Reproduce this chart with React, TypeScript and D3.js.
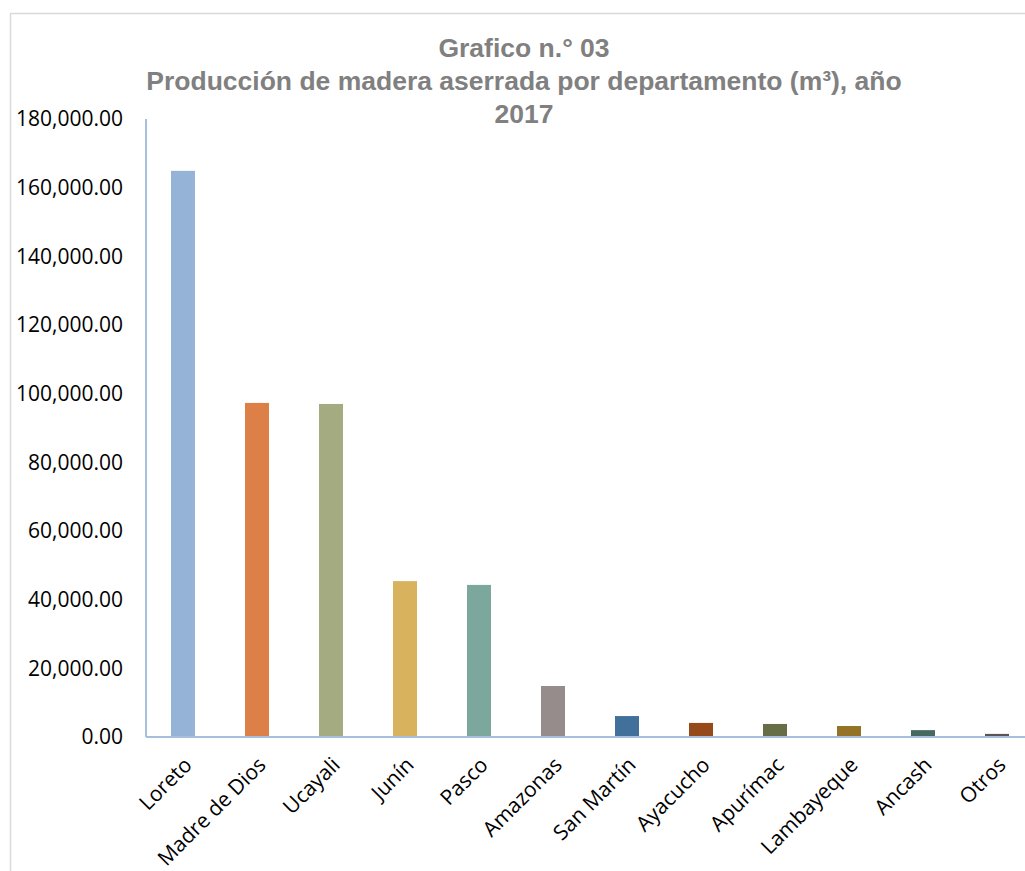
import React from "react";
import * as d3 from "d3";

const categories = ["Loreto", "Madre de Dios", "Ucayali", "Junín", "Pasco", "Amazonas", "San Martín", "Ayacucho", "Apurímac", "Lambayeque", "Ancash", "Otros"];
const values = [164900, 97300, 97000, 45400, 44300, 14850, 6100, 4100, 3800, 3200, 2000, 900];
const colors = ["#95b3d7", "#dd8047", "#a5ab81", "#d8b25c", "#7ba79d", "#968c8c", "#41709b", "#964a1a", "#666e48", "#957326", "#456961", "#5a5454"];
const yTicks = [0, 20000, 40000, 60000, 80000, 100000, 120000, 140000, 160000, 180000];
const titleLines = ["Grafico n.° 03", "Producción de madera aserrada por departamento (m³), año", "2017"];

export default function App() {
  const W = 1025, H = 871;
  const left = 146, top = 119, bottom = 737;
  const step = 74;
  const x = d3.scaleBand<string>().domain(categories).range([left, left + step * categories.length]).paddingInner(50 / 74).paddingOuter(25 / 74);
  const y = d3.scaleLinear().domain([0, 180000]).range([bottom, top]);
  const fmt = d3.format(",.2f");
  const axisColor = "#a7bfdc";
  return (
    <svg width={W} height={H} style={{ position: "absolute", left: 0, top: 0, background: "#fff" }}>
      <rect x={10.5} y={13.5} width={W + 20} height={H + 20} fill="#fff" stroke="#d9d9d9" strokeWidth={1.5} />
      {titleLines.map((t, i) => (
        <text key={i} x={524} y={57 + i * 33} textAnchor="middle" fontFamily="'Liberation Sans', Arial, sans-serif" fontWeight="bold" fontSize={26.5} fill="#808080">{t}</text>
      ))}
      {categories.map((c, i) => (
        <rect key={c} x={x(c)} y={y(values[i])} width={x.bandwidth()} height={bottom - y(values[i])} fill={colors[i]} />
      ))}
      <line x1={left} x2={W} y1={bottom} y2={bottom} stroke={axisColor} strokeWidth={2} />
      <line x1={left} x2={left} y1={top} y2={bottom} stroke={axisColor} strokeWidth={2} />
      {yTicks.map((t) => (
        <text key={t} x={123} y={y(t)} dy="0.35em" textAnchor="end" fontFamily="'Open Sans', sans-serif" fontSize={21} fill="#000">{fmt(t)}</text>
      ))}
      {categories.map((c) => {
        const cx = (x(c) as number) + x.bandwidth() / 2 + 5;
        const cy = 761;
        return (
          <text key={c} transform={`translate(${cx},${cy}) rotate(-45)`} textAnchor="end" dy="0.35em" fontFamily="'Open Sans', sans-serif" fontSize={21} fill="#000">{c}</text>
        );
      })}
    </svg>
  );
}
